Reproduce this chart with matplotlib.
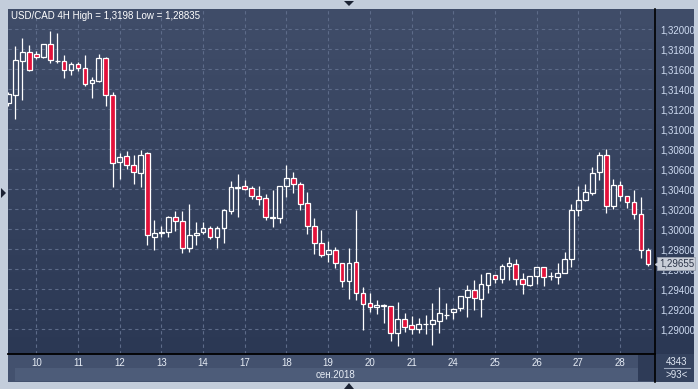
import numpy as np
import matplotlib
matplotlib.use('Agg')
import matplotlib.pyplot as plt
from matplotlib.patches import Rectangle, Polygon
from matplotlib.ticker import FixedLocator, FuncFormatter
import matplotlib.transforms as mtransforms

# USD/CAD 4H candles (bar 0 is partially cut at the left)
opens = [1.31260, 1.31346, 1.31686, 1.31770, 1.31750, 1.31720, 1.31850, 1.31680, 1.31680, 1.31596,
         1.31650, 1.31610, 1.31460, 1.31486, 1.31710, 1.31340, 1.30678, 1.30733, 1.30640, 1.30568,
         1.30763, 1.29923, 1.29963, 1.29976, 1.30123, 1.30080, 1.29816, 1.29940, 1.29976, 1.30010,
         1.29926, 1.30010, 1.30180, 1.30418, 1.30430, 1.30410, 1.30336, 1.30310, 1.30117, 1.30110,
         1.30430, 1.30510, 1.30450, 1.30260, 1.30030, 1.29860, 1.29750, 1.29793, 1.29660, 1.29488,
         1.29670, 1.29360, 1.29260, 1.29220, 1.29233, 1.29233, 1.28960, 1.29100, 1.29040, 1.29000,
         1.29053, 1.29056, 1.29086, 1.29143, 1.29170, 1.29210, 1.29326, 1.29390, 1.29306, 1.29446,
         1.29540, 1.29500, 1.29630, 1.29650, 1.29500, 1.29446, 1.29533, 1.29620, 1.29531, 1.29526,
         1.29560, 1.29700, 1.30190, 1.30296, 1.30366, 1.30570, 1.30743, 1.30236, 1.30440, 1.30330,
         1.30270, 1.30150, 1.29790]
highs = [1.31373, 1.31833, 1.31910, 1.31843, 1.31783, 1.31853, 1.31980, 1.31963, 1.31743, 1.31673,
         1.31673, 1.31743, 1.31520, 1.31753, 1.31723, 1.31371, 1.30766, 1.30783, 1.30745, 1.30793,
         1.30773, 1.30090, 1.30033, 1.30133, 1.30183, 1.30183, 1.30253, 1.30073, 1.30073, 1.30033,
         1.30036, 1.30200, 1.30483, 1.30553, 1.30493, 1.30433, 1.30433, 1.30353, 1.30393, 1.30433,
         1.30640, 1.30570, 1.30470, 1.30373, 1.30110, 1.29993, 1.29886, 1.29823, 1.29660, 1.29810,
         1.30193, 1.29423, 1.29360, 1.29293, 1.29250, 1.29233, 1.29270, 1.29160, 1.29133, 1.29110,
         1.29143, 1.29263, 1.29423, 1.29263, 1.29216, 1.29333, 1.29443, 1.29493, 1.29553, 1.29560,
         1.29540, 1.29653, 1.29723, 1.29703, 1.29566, 1.29533, 1.29620, 1.29620, 1.29576, 1.29660,
         1.29770, 1.30250, 1.30433, 1.30450, 1.30623, 1.30773, 1.30800, 1.30503, 1.30483, 1.30330,
         1.30393, 1.30323, 1.29810]
lows = [1.31233, 1.31100, 1.31293, 1.31583, 1.31706, 1.31717, 1.31666, 1.31666, 1.31516, 1.31543,
        1.31580, 1.31436, 1.31316, 1.31476, 1.31236, 1.30426, 1.30503, 1.30606, 1.30458, 1.30423,
        1.29846, 1.29793, 1.29923, 1.29923, 1.29986, 1.29760, 1.29776, 1.29846, 1.29953, 1.29900,
        1.29816, 1.29866, 1.30156, 1.30123, 1.30393, 1.30306, 1.30246, 1.30093, 1.30026, 1.30066,
        1.30323, 1.30363, 1.30193, 1.29950, 1.29750, 1.29720, 1.29675, 1.29613, 1.29426, 1.29308,
        1.29293, 1.28996, 1.29176, 1.29150, 1.29066, 1.28886, 1.28835, 1.28976, 1.28956, 1.28966,
        1.28956, 1.28843, 1.28966, 1.29100, 1.29106, 1.29183, 1.29123, 1.29193, 1.29123, 1.29366,
        1.29460, 1.29466, 1.29493, 1.29446, 1.29350, 1.29436, 1.29453, 1.29436, 1.29490, 1.29453,
        1.29560, 1.29626, 1.30133, 1.30283, 1.30346, 1.30493, 1.30160, 1.30203, 1.30283, 1.30210,
        1.30100, 1.29710, 1.29633]
closes = [1.31353, 1.31693, 1.31770, 1.31590, 1.31720, 1.31850, 1.31693, 1.31686, 1.31590, 1.31653,
          1.31610, 1.31450, 1.31490, 1.31710, 1.31340, 1.30668, 1.30721, 1.30640, 1.30570, 1.30741,
          1.29940, 1.29967, 1.29970, 1.30126, 1.30080, 1.29810, 1.29940, 1.29966, 1.30010, 1.29926,
          1.30010, 1.30190, 1.30420, 1.30423, 1.30406, 1.30336, 1.30306, 1.30120, 1.30123, 1.30430,
          1.30510, 1.30450, 1.30250, 1.30030, 1.29860, 1.29740, 1.29793, 1.29660, 1.29488, 1.29660,
          1.29360, 1.29250, 1.29226, 1.29240, 1.29240, 1.28960, 1.29100, 1.29026, 1.29000, 1.29053,
          1.29058, 1.29090, 1.29160, 1.29148, 1.29200, 1.29333, 1.29390, 1.29310, 1.29450, 1.29560,
          1.29500, 1.29630, 1.29660, 1.29500, 1.29450, 1.29533, 1.29620, 1.29526, 1.29535, 1.29560,
          1.29700, 1.30190, 1.30296, 1.30370, 1.30560, 1.30743, 1.30236, 1.30440, 1.30333, 1.30270,
          1.30150, 1.29790, 1.29655]

day_labels = ['10', '11', '12', '13', '14', '17', '18', '19', '20', '21', '24', '25', '26', '27', '28']
first_day_bar = 4
bars_per_day = 6
price_ticks = [1.290, 1.292, 1.294, 1.296, 1.298, 1.300, 1.302, 1.304,
               1.306, 1.308, 1.310, 1.312, 1.314, 1.316, 1.318, 1.320]
title = 'USD/CAD 4H High = 1,3198 Low = 1,28835'
month_label = 'сен.2018'
corner_top = '4343'
corner_bottom = '>93<'

W, H = 698, 389
FONT = 'Liberation Sans'
plt.rcParams['font.family'] = [FONT, 'DejaVu Sans']


def fbox(x0, y0, x1, y1):
    return [x0 / W, 1 - y1 / H, (x1 - x0) / W, (y1 - y0) / H]


fig = plt.figure(figsize=(W / 100, H / 100), dpi=100)
fig.patch.set_facecolor('#c3cddb')

# background overlay in pixel coords
bg = fig.add_axes([0, 0, 1, 1], zorder=0)
bg.set_xlim(0, W)
bg.set_ylim(H, 0)
bg.axis('off')
top_c = np.array([64, 77, 105]) / 255
bot_c = np.array([43, 56, 84]) / 255
t = np.linspace(0, 1, 256)[:, None, None]
grad = top_c * (1 - t) + bot_c * t
bg.imshow(grad, extent=[8, 694, 354, 9], aspect='auto', interpolation='bilinear')
bg.add_patch(Rectangle((8, 354), 647, 28, color='#43516e', lw=0))
bg.add_patch(Rectangle((15, 368), 623, 13, color='#4d5c79', lw=0))
bg.add_patch(Rectangle((638, 355), 17, 26, color='#2e3b57', lw=0))
bg.add_patch(Rectangle((655, 354), 39, 28, color='#34425e', lw=0))
bg.plot([655, 655], [9, 382], color='black', lw=1.2)
bg.plot([664, 690], [368, 368], color='#9aa6bb', lw=0.8)
bg.text(677, 362, corner_top, color='#dfe6f2', fontsize=7, ha='center', va='center')
bg.text(677, 375, corner_bottom, color='#dfe6f2', fontsize=7, ha='center', va='center')
bg.text(336, 375, month_label, color='#e6ecf5', fontsize=7, ha='center', va='center')
tri_c = '#1b2233'
bg.add_patch(Polygon([[344, 1], [354, 1], [349, 6]], color=tri_c, lw=0))
bg.add_patch(Polygon([[344, 389], [354, 389], [349, 383]], color=tri_c, lw=0))
bg.add_patch(Polygon([[1, 188], [1, 198], [6, 193]], color=tri_c, lw=0))

# main chart
ax = fig.add_axes(fbox(8, 9, 655, 354), zorder=1)
ax.patch.set_alpha(0)

o = np.array(opens)
h = np.array(highs)
l = np.array(lows)
c = np.array(closes)
idx = np.arange(len(o))
body_top = np.maximum(o, c)
body_bot = np.minimum(o, c)
up = c >= o

ax.vlines(idx, body_top, h, color='white', lw=0.9, zorder=3)
ax.vlines(idx, l, body_bot, color='white', lw=0.9, zorder=3)
heights = np.maximum(body_top - body_bot, 0.00002)
ax.bar(idx[up], heights[up], bottom=body_bot[up], width=0.68,
       facecolor='none', edgecolor='white', lw=0.9, zorder=4)
ax.bar(idx[~up], heights[~up], bottom=body_bot[~up], width=0.68,
       facecolor='#e3113a', edgecolor='white', lw=0.9, zorder=4)

ax.set_xlim(-0.07, 93.02)
ax.set_ylim(1.28753, 1.32203)

day_pos = [first_day_bar + k * bars_per_day for k in range(len(day_labels))]
ax.xaxis.set_major_locator(FixedLocator(day_pos))
ax.set_xticklabels(day_labels)
ax.yaxis.set_major_locator(FixedLocator(price_ticks))
ax.yaxis.set_major_formatter(FuncFormatter(lambda v, p: f'{v:.5f}'.replace('.', ',')))
ax.yaxis.tick_right()
ax.tick_params(axis='y', length=0, pad=4, labelsize=7, labelcolor='#cfdcf2')
ax.tick_params(axis='x', length=0, pad=3, labelsize=7, labelcolor='#e6ecf5')
ax.grid(True, color='#5d6b89', lw=0.8, linestyle=(0, (3, 3)))
ax.set_axisbelow(True)
for s in ['top', 'left', 'right']:
    ax.spines[s].set_visible(False)
ax.spines['bottom'].set_color('black')
ax.spines['bottom'].set_linewidth(1.3)

ax.text(0.004, 0.993, title, transform=ax.transAxes, va='top', ha='left',
        color='white', fontsize=7, zorder=10)

# last price tag
last = closes[-1]
trans = mtransforms.blended_transform_factory(ax.transAxes, ax.transData)
ax.text(1.006, last, f'{last:.5f}'.replace('.', ','), transform=trans, va='center', ha='left',
        fontsize=7, color='#2a3347', zorder=10, clip_on=False,
        bbox=dict(boxstyle='square,pad=0.15', facecolor='#c9ced8', edgecolor='#9aa2b0', lw=0.6))
ax.plot([1.0045], [last], marker='<', markersize=4, color='#c9ced8', transform=trans,
        clip_on=False, zorder=11)

fig.savefig('out.png', dpi=100, facecolor=fig.get_facecolor())
